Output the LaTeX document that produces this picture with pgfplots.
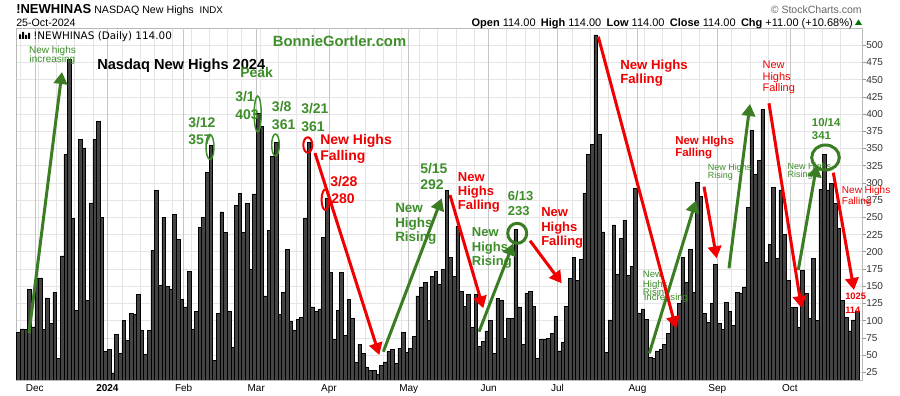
\documentclass[border=0pt]{standalone}
\usepackage{fontspec}
\setmainfont{Liberation Sans}
\newfontfamily\dejavu{DejaVu Sans}
\usepackage{pgfplots}
\pgfplotsset{compat=1.18}
\usepackage{pgfplotstable}
\usetikzlibrary{arrows.meta}
\definecolor{gtext}{HTML}{3E8E2A}
\definecolor{garrow}{HTML}{3B7D23}
\definecolor{rtext}{HTML}{F00000}
\definecolor{barfill}{HTML}{444444}
\newcommand\fs[1]{\fontsize{#1}{#1}\selectfont}

\pgfplotstableread{
v
83
88
87
145
91
162
162
87
133
96
141
45
194
341
480
248
115
363
351
130
271
363
390
250
55
58
24
80
53
100
71
111
109
138
86
51
86
202
289
151
250
150
146
254
218
131
120
172
87
114
235
250
315
355
42
110
258
228
114
61
267
285
228
270
174
284
401
382
136
231
339
359
109
141
204
99
86
102
105
249
359
120
113
117
221
278
170
73
115
170
79
131
103
39
66
53
32
28
28
22
35
40
55
58
38
60
83
54
60
77
136
149
156
100
164
172
153
175
289
192
164
237
142
121
138
90
138
63
70
85
100
53
132
129
74
103
103
232
120
66
140
142
121
46
73
73
74
82
106
56
69
121
161
192
159
189
285
342
356
515
371
229
54
101
239
167
219
246
166
179
292
111
117
102
47
45
56
58
66
82
97
100
125
192
155
203
141
301
280
111
98
125
182
96
87
127
113
93
141
140
149
265
376
312
333
407
185
211
293
190
290
225
158
119
119
90
173
139
103
191
100
291
341
290
299
270
234
130
105
85
101
114
}\newhighs

\begin{document}
\begin{tikzpicture}
\fill[white] (0,0) rectangle (675pt,297pt);
\useasboundingbox (0,0) rectangle (675pt,297pt);
\begin{axis}[
  at={(12pt,12pt)}, anchor=south west,
  width=634.5pt, height=264pt, scale only axis,
  xmin=0.31, xmax=233.37, ymin=13.81, ymax=525.1,
  axis line style={draw=gray!55, line width=0.5pt},
  ytick={25,50,...,500},
  ytick pos=right, yticklabel pos=right,
  tick align=outside, major tick length=3pt,
  ytick style={draw=gray!80, line width=0.5pt},
  xtick style={draw=none},
  xtick={1.5,6.5,11.5,16.5,21.5,25.5,29.5,34.5,38.5,43.5,48.5,53.5,58.5,62.5,67.5,72.5,77.5,82.5,86.5,91.5,96.5,101.5,106.5,111.5,116.5,121.5,126.5,130.5,135.5,140.5,144.5,149.5,153.5,158.5,163.5,168.5,173.5,178.5,183.5,188.5,193.5,197.5,202.5,207.5,212.5,217.5,222.5,227.5},
  xticklabels={},
  extra x ticks={5.5,25.5,46.5,66.5,86.5,108.5,130.5,149.5,171.5,193.5,213.5},
  extra x tick labels={Dec,\textbf{2024},Feb,Mar,Apr,May,Jun,Jul,Aug,Sep,Oct},
  extra x tick style={grid=major, major grid style={draw=gray!45, line width=0.5pt}},
  grid=major,
  major grid style={draw=gray!20, line width=0.5pt},
  tick label style={font=\fs{7.5pt}, inner sep=0pt},
  yticklabel style={text=black!80, anchor=west},
  xticklabel style={anchor=north, text=black},
  /pgf/number format/assume math mode=true,
]
\addplot[ybar, bar width=1, bar shift=0pt, fill=barfill, draw=black, line width=0.5pt]
  table[x expr=\coordindex+1, y=v] {\newhighs};
\end{axis}

\begin{scope}[x=0.75pt,y=-0.75pt,yshift=297pt]
% header
\node[anchor=base west,inner sep=0pt,font=\bfseries\fs{9.75pt}] at (16,14) {!NEWHINAS};
\node[anchor=base west,inner sep=0pt,font=\fs{8pt}] at (94,13.3) {NASDAQ New Highs};
\node[anchor=base west,inner sep=0pt,font=\fs{7.3pt}] at (199.3,13.3) {INDX};
\node[anchor=base west,inner sep=0pt,font=\fs{8pt}] at (16,26.7) {25-Oct-2024};
\node[anchor=base east,inner sep=0pt,font=\fs{7.9pt},text=black!60] at (862,14) {© StockCharts.com};
\node[anchor=base east,inner sep=0pt,font=\fs{8.25pt}] at (853,26.7) {\textbf{Open} 114.00\hspace{4pt}\textbf{High} 114.00\hspace{4pt}\textbf{Low} 114.00\hspace{4pt}\textbf{Close} 114.00\hspace{4pt}\textbf{Chg} +11.00 (+10.68\%)};
\fill[green!45!black] (855,25) -- (862,25) -- (858.5,19.5) -- cycle;
% plot title
\fill[black] (19,39) rectangle (21,34.5) (22,39) rectangle (24,32) (25,39) rectangle (27,35) (28,39) rectangle (30,33);
\node[anchor=base west,inner sep=0pt,font=\dejavu\fs{7.8pt}] at (33,39.3) {!NEWHINAS (Daily) 114.00};
\node[anchor=base west,inner sep=0pt,font=\bfseries\fs{11.1pt},text=gtext] at (272.7,46.7) {BonnieGortler.com};
\node[anchor=base west,inner sep=0pt,font=\bfseries\fs{10.95pt}] at (97,70) {Nasdaq New Highs 2024};
\node[anchor=base,inner sep=0pt,font=\fs{7.5pt},text=gtext] at (52.5,53.3) {New highs};
\node[anchor=base,inner sep=0pt,font=\fs{7.5pt},text=gtext] at (52.5,62.5) {increasing};

% green bold labels
\begin{scope}[every node/.style={anchor=base west,inner sep=0pt,font=\bfseries\fs{10.5pt},text=gtext}]
\node at (188,128) {3/12}; \node at (188,145) {357};
\node at (240,77.5) {Peak};
\node at (235,101.7) {3/1}; \node at (235,120) {403};
\node at (271.7,111.7) {3/8}; \node at (271.7,129.3) {361};
\node at (301,114) {3/21}; \node at (301,131.7) {361};
\node at (420,173.3) {5/15}; \node at (420,190) {292};
\node[font=\bfseries\fs{10.1pt}] at (395,212.7) {New};
\node[font=\bfseries\fs{10.1pt}] at (395,227.5) {Highs};
\node[font=\bfseries\fs{10.1pt}] at (395,242) {Rising};
\node[font=\bfseries\fs{9.75pt}] at (507.7,200.7) {6/13};
\node[font=\bfseries\fs{9.75pt}] at (507.7,216) {233};
\node[font=\bfseries\fs{9.75pt}] at (471.7,236.7) {New};
\node[font=\bfseries\fs{9.75pt}] at (471.7,251.5) {Highs};
\node[font=\bfseries\fs{9.75pt}] at (471.7,266) {Rising};
\node[font=\bfseries\fs{8.5pt}] at (811.7,126.7) {10/14};
\node[font=\bfseries\fs{8.5pt}] at (811.7,140) {341};
\end{scope}
% green small regular
\begin{scope}[every node/.style={anchor=base west,inner sep=0pt,font=\fs{7.2pt},text=gtext}]
\node at (642.7,277.3) {New};
\node at (642.7,287.5) {Highs};
\node at (642.7,296) {Rising};
\node at (643.5,300.5) {Increasing};
\node[font=\fs{6.75pt}] at (707.7,170.7) {New Highs};
\node[font=\fs{6.75pt}] at (707.7,178.5) {Rising};
\node[font=\fs{6.75pt}] at (787.3,170) {New Highs};
\node[font=\fs{6.75pt}] at (787.3,177.5) {Rising};
\end{scope}
% red bold labels
\begin{scope}[every node/.style={anchor=base west,inner sep=0pt,font=\bfseries\fs{10.5pt},text=rtext}]
\node at (320,145) {New Highs}; \node at (320,161) {Falling};
\node at (330,186.7) {3/28}; \node at (331,203.3) {280};
\node[font=\bfseries\fs{9.75pt}] at (457.7,181.7) {New};
\node[font=\bfseries\fs{9.75pt}] at (457.7,196) {Highs};
\node[font=\bfseries\fs{9.75pt}] at (457.7,210) {Falling};
\node[font=\bfseries\fs{9.75pt}] at (541,216.7) {New};
\node[font=\bfseries\fs{9.75pt}] at (541,231.5) {Highs};
\node[font=\bfseries\fs{9.75pt}] at (541,245.5) {Falling};
\node[font=\bfseries\fs{9.9pt}] at (620,70) {New Highs};
\node[font=\bfseries\fs{9.9pt}] at (620,83.5) {Falling};
\node[font=\bfseries\fs{8.6pt}] at (675,145) {New HIghs};
\node[font=\bfseries\fs{8.6pt}] at (675,156.5) {Falling};
\node[font=\bfseries\fs{7pt}] at (845,300) {1025};
\node[font=\bfseries\fs{7pt}] at (845,314) {114};
\end{scope}
% red regular labels
\begin{scope}[every node/.style={anchor=base west,inner sep=0pt,font=\fs{8.25pt},text=rtext}]
\node at (762.3,68.3) {New};
\node at (762.3,80.5) {Highs};
\node at (762.3,92) {Falling};
\node[font=\fs{7.5pt}] at (841.7,194) {New Highs};
\node[font=\fs{7.5pt}] at (841.7,205) {Falling};
\end{scope}

% arrows
\begin{scope}[line width=2.25pt, -{Triangle[length=9pt,width=10pt]}]
\draw[garrow] (29,333) -- (62,72);
\draw[garrow] (383.3,351.7) -- (441.7,198.3);
\draw[garrow] (479,331.7) -- (513.3,243.3);
\draw[garrow] (649.3,353.3) -- (696,200.5);
\draw[garrow] (729,268.3) -- (750,104);
\draw[garrow] (798.3,270) -- (816.7,165);
\draw[rtext] (315,153) -- (379.3,355);
\draw[rtext] (450,195) -- (483.3,308.3);
\draw[rtext] (530,240.7) -- (561.7,283.3);
\draw[rtext] (598.3,36.7) -- (676,328.3);
\draw[rtext] (704,186.7) -- (716.7,258.3);
\draw[rtext] (769,103.3) -- (801.5,308);
\draw[rtext] (833.3,172.7) -- (854,290);
\end{scope}

% ellipses
\draw[gtext, line width=1.1pt] (210,147) ellipse [x radius=4, y radius=12.5];
\draw[gtext, line width=1.1pt] (257.7,114) ellipse [x radius=3.5, y radius=18];
\draw[gtext, line width=1.1pt] (275.5,145) ellipse [x radius=3.8, y radius=11];
\draw[rtext, line width=1.5pt] (307.8,145) ellipse [x radius=4.5, y radius=7.7];
\draw[rtext, line width=1.5pt] (325.3,199.7) ellipse [x radius=3.7, y radius=10.3];
\draw[garrow, line width=2.25pt] (517.2,233.3) ellipse [x radius=9.5, y radius=10];
\draw[garrow, line width=2.25pt] (825.5,157.5) ellipse [x radius=13.8, y radius=12.5];
\end{scope}
\end{tikzpicture}
\end{document}
